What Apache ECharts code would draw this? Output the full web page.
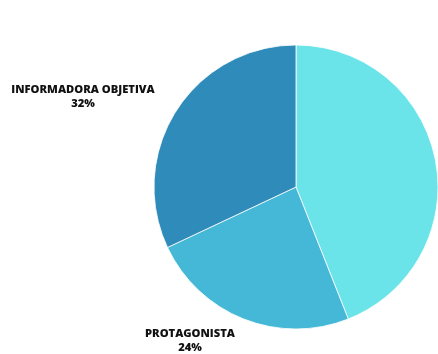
<!DOCTYPE html>
<html>
<head>
<meta charset="utf-8">
<style>
  html, body { margin: 0; padding: 0; background: #ffffff; }
  #chart { width: 438px; height: 354px; }
</style>
<script src="https://cdn.jsdelivr.net/npm/echarts@6/dist/echarts.min.js"></script>
</head>
<body>
<div id="chart"></div>
<script>
// Roles and their shares (percent)
const categories = ['OTROS', 'PROTAGONISTA', 'INFORMADORA OBJETIVA'];
const shares = [44, 24, 32];
const colors = ['#6ae4e8', '#44b8d6', '#2e8bba'];
const showLabel = [false, true, true];

// Label anchor points (text centre) for the labelled slices
const labelSpots = {
  'PROTAGONISTA': [190, 341],
  'INFORMADORA OBJETIVA': [83, 97]
};

const chart = echarts.init(document.getElementById('chart'), null, { renderer: 'canvas' });

const data = categories.map((name, i) => ({
  name: name,
  value: shares[i],
  itemStyle: { color: colors[i] },
  label: { show: showLabel[i] }
}));

chart.setOption({
  animation: false,
  backgroundColor: '#ffffff',
  series: [{
    type: 'pie',
    center: [296, 187],
    radius: [0, 142],
    startAngle: 90,
    clockwise: true,
    data: data,
    itemStyle: { borderColor: '#ffffff', borderWidth: 0.8 },
    label: {
      position: 'outside',
      formatter: p => p.name + '\n' + p.value + '%',
      fontFamily: 'Open Sans',
      fontWeight: 800,
      fontSize: 11.2,
      lineHeight: 14,
      color: '#111111',
      align: 'center',
      overflow: 'none',
      width: 300
    },
    labelLine: { show: false },
    labelLayout: function (params) {
      const name = categories[params.dataIndex];
      const spot = labelSpots[name];
      if (!spot) return {};
      return { x: spot[0], y: spot[1], align: 'center', verticalAlign: 'middle' };
    },
    emphasis: { disabled: true }
  }]
});
</script>
</body>
</html>
